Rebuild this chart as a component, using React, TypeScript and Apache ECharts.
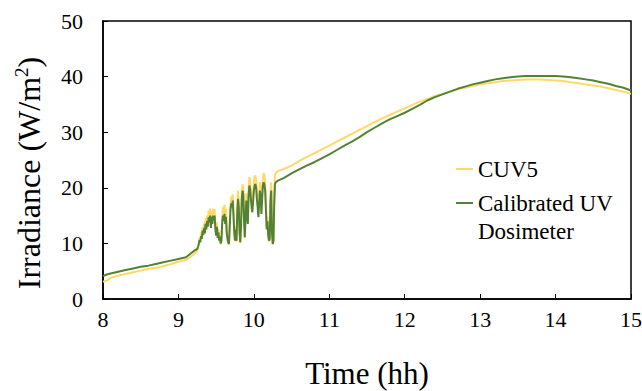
import React, { useEffect, useRef } from "react";
import * as echarts from "echarts";

const times: number[] = [
  8.0, 8.05, 8.1, 8.2, 8.3, 8.4, 8.5, 8.6, 8.7, 8.8, 8.9, 9.0, 9.1, 9.2,
  9.25, 9.26, 9.27, 9.28, 9.29,
  9.3, 9.31, 9.32, 9.33, 9.34, 9.35, 9.36, 9.37, 9.38, 9.39,
  9.4, 9.41, 9.42, 9.43, 9.44, 9.45, 9.46, 9.47, 9.48, 9.49,
  9.5, 9.51, 9.52, 9.53, 9.54, 9.55, 9.56, 9.57, 9.58, 9.59,
  9.6, 9.61, 9.62, 9.63, 9.64, 9.65, 9.66, 9.67, 9.68, 9.69,
  9.7, 9.71, 9.72, 9.73, 9.74, 9.75, 9.76, 9.77, 9.78, 9.79,
  9.8, 9.81, 9.82, 9.83, 9.84, 9.85, 9.86, 9.87, 9.88, 9.89,
  9.9, 9.91, 9.92, 9.93, 9.94, 9.95, 9.96, 9.97, 9.98, 9.99,
  10.0, 10.01, 10.02, 10.03, 10.04, 10.05, 10.06, 10.07, 10.08, 10.09,
  10.1, 10.11, 10.12, 10.13, 10.14, 10.15, 10.16, 10.17, 10.18, 10.19,
  10.2, 10.21, 10.22, 10.23, 10.24, 10.25, 10.26, 10.27, 10.28, 10.29,
  10.3, 10.31, 10.32,
  10.4, 10.5, 10.6, 10.7, 10.8, 10.9, 11.0, 11.1, 11.2, 11.3, 11.4, 11.5, 11.6, 11.7, 11.8, 11.9,
  12.0, 12.1, 12.2, 12.3, 12.4, 12.5, 12.6, 12.7, 12.8, 12.9, 13.0, 13.1, 13.2, 13.3, 13.4, 13.5,
  13.6, 13.7, 13.8, 13.9, 14.0, 14.1, 14.2, 14.3, 14.4, 14.5, 14.6, 14.7, 14.8, 14.9, 15.0,
];

const cuv5: number[] = [
  3.1, 3.3, 3.8, 4.2, 4.5, 4.8, 5.1, 5.4, 5.6, 5.9, 6.3, 6.7, 7.0, 8.0,
  8.8, 9.4, 10.1, 11.0, 10.8,
  12.0, 11.5, 12.9, 12.3, 13.6, 12.6, 14.5, 13.5, 15.0, 14.0,
  15.9, 15.0, 16.3, 13.6, 15.8, 14.5, 16.2, 15.3, 16.2, 13.0,
  12.0, 13.8, 11.5, 12.6, 10.8, 11.5, 9.8, 10.4, 14.5, 16.5,
  15.5, 17.0, 14.5, 16.2, 12.8, 11.0, 10.0, 9.7, 14.0, 17.2,
  18.4, 17.6, 18.8, 16.0, 12.5, 10.4, 13.0, 10.3, 16.8, 19.5,
  17.8, 12.5, 10.0, 13.5, 19.5, 20.6, 20.0, 14.8, 11.0, 15.5,
  19.0, 16.0, 14.2, 20.0, 21.9, 21.5, 19.5, 17.5, 16.5, 18.8,
  21.0, 22.0, 22.2, 21.6, 19.5, 17.5, 15.5, 18.5, 21.0, 20.0,
  16.2, 19.5, 22.0, 22.6, 22.2, 21.0, 17.0, 13.0, 14.8, 12.0,
  10.4, 10.6, 19.0, 21.0, 12.5, 9.8, 10.3, 18.5, 22.3, 22.6,
  22.8, 22.9, 23.0,
  23.4, 24.0, 24.8, 25.5, 26.2, 26.9, 27.6, 28.3, 29.0, 29.7, 30.4, 31.1, 31.8, 32.5, 33.1, 33.7,
  34.3, 34.9, 35.5, 36.0, 36.5, 36.9, 37.3, 37.7, 38.0, 38.3, 38.6, 38.8, 39.0, 39.2, 39.3, 39.4,
  39.5, 39.5, 39.5, 39.4, 39.3, 39.2, 39.0, 38.8, 38.6, 38.4, 38.2, 37.9, 37.6, 37.3, 36.9,
];

const dosimeter: number[] = [
  4.1, 4.4, 4.6, 4.9, 5.2, 5.5, 5.8, 6.0, 6.3, 6.6, 6.9, 7.2, 7.5, 8.6,
  9.0, 9.4, 9.9, 10.6, 10.2,
  11.3, 10.8, 12.3, 11.5, 12.8, 11.8, 13.5, 12.5, 14.0, 13.0,
  14.7, 13.8, 15.0, 12.8, 14.8, 13.5, 15.0, 14.2, 15.0, 12.5,
  11.4, 13.0, 11.0, 12.0, 10.5, 11.2, 10.0, 10.5, 13.5, 15.0,
  14.0, 15.3, 13.5, 14.8, 12.0, 10.8, 10.2, 9.9, 13.0, 16.0,
  17.2, 16.5, 17.7, 15.0, 12.0, 10.5, 12.5, 10.5, 15.5, 18.0,
  16.5, 12.0, 10.2, 13.0, 18.0, 19.5, 18.8, 14.0, 11.1, 14.5,
  17.7, 15.0, 13.5, 18.5, 20.4, 19.8, 18.0, 16.5, 15.6, 17.5,
  19.5, 20.4, 20.7, 20.0, 18.0, 16.5, 14.7, 17.0, 19.5, 18.5,
  15.3, 18.0, 20.5, 21.0, 20.5, 19.5, 16.0, 12.5, 14.0, 11.5,
  10.5, 10.8, 17.5, 19.5, 12.0, 9.9, 10.5, 17.0, 20.7, 21.0,
  21.1, 21.2, 21.3,
  21.8, 22.6, 23.3, 24.0, 24.6, 25.3, 26.0, 26.8, 27.6, 28.3, 29.1, 30.0, 30.8, 31.6, 32.3, 32.9,
  33.5, 34.2, 34.9, 35.7, 36.3, 36.8, 37.3, 37.8, 38.2, 38.6, 38.9, 39.2, 39.5, 39.7, 39.9, 40.0,
  40.1, 40.1, 40.1, 40.1, 40.1, 40.0, 39.9, 39.7, 39.5, 39.3, 39.0, 38.7, 38.3, 38.0, 37.5,
];

const seriesNames = ["CUV5", "Calibrated UV Dosimeter"];
const legendLines = ["Calibrated UV", "Dosimeter"];
const seriesColors = ["#FFD966", "#548235"];
const xTicks = { min: 8, max: 15, interval: 1 };
const yTicks = { min: 0, max: 50, interval: 10 };

const FONT = "Liberation Serif";

export default function App() {
  const ref = useRef<HTMLDivElement>(null);
  useEffect(() => {
    if (!ref.current) return;
    const chart = echarts.init(ref.current, undefined, { renderer: "svg" });
    const values = [cuv5, dosimeter];
    const legendText = { fontFamily: FONT, fontSize: 23, color: "#000", lineHeight: 28 };
    chart.setOption({
      animation: false,
      backgroundColor: "#ffffff",
      textStyle: { fontFamily: FONT },
      grid: {
        left: 103,
        top: 21,
        width: 528,
        height: 278,
        outerBoundsMode: "none",
        containLabel: false,
        show: true,
        borderColor: "#000",
        borderWidth: 1.5,
        backgroundColor: "transparent",
      },
      legend: [
        {
          data: [seriesNames[0]],
          orient: "vertical",
          left: 456,
          top: 155,
          padding: 0,
          icon: "rect",
          itemWidth: 17,
          itemHeight: 2,
          textStyle: legendText,
        },
        {
          data: [seriesNames[1]],
          orient: "vertical",
          left: 456,
          top: 161,
          padding: 0,
          icon: "rect",
          itemWidth: 17,
          itemHeight: 2,
          formatter: () => "{e| }\n{t|" + legendLines[0] + "}\n{t|" + legendLines[1] + "}",
          textStyle: {
            ...legendText,
            rich: {
              e: { fontFamily: FONT, fontSize: 23, lineHeight: 28, height: 28 },
              t: { fontFamily: FONT, fontSize: 23, lineHeight: 28, color: "#000" },
            },
          },
        },
      ],
      xAxis: {
        type: "value",
        min: xTicks.min,
        max: xTicks.max,
        interval: xTicks.interval,
        name: "Time (hh)",
        nameLocation: "middle",
        nameGap: 59,
        nameTextStyle: { fontFamily: FONT, fontSize: 31, color: "#000" },
        axisLine: { show: true, lineStyle: { color: "#000", width: 1.5 } },
        axisTick: { show: true, inside: true, length: 5, lineStyle: { color: "#000", width: 1 } },
        axisLabel: { fontFamily: FONT, fontSize: 22, color: "#000", margin: 9 },
        splitLine: { show: false },
      },
      yAxis: {
        type: "value",
        min: yTicks.min,
        max: yTicks.max,
        interval: yTicks.interval,
        name: "Irradiance (W/m{sup|2})",
        nameLocation: "middle",
        nameRotate: 90,
        nameGap: 58,
        nameTextStyle: {
          fontFamily: FONT,
          fontSize: 32,
          color: "#000",
          padding: [0, 26, 0, 0],
          rich: {
            sup: { fontFamily: FONT, fontSize: 19, color: "#000", verticalAlign: "top", padding: [0, 0, 14, 0] },
          },
        },
        axisLine: { show: true, lineStyle: { color: "#000", width: 1.5 } },
        axisTick: { show: true, inside: true, length: 5, lineStyle: { color: "#000", width: 1 } },
        axisLabel: { fontFamily: FONT, fontSize: 22, color: "#000", margin: 20 },
        splitLine: { show: false },
      },
      series: values.map((vals, i) => ({
        name: seriesNames[i],
        type: "line",
        showSymbol: false,
        symbol: "none",
        data: times.map((t, j) => [t, vals[j]]),
        lineStyle: { color: seriesColors[i], width: 2 },
        itemStyle: { color: seriesColors[i] },
        z: 2 + i,
      })),
    });
    return () => chart.dispose();
  }, []);
  return <div ref={ref} style={{ width: 642, height: 391, position: "absolute", left: 0, top: 0 }} />;
}
